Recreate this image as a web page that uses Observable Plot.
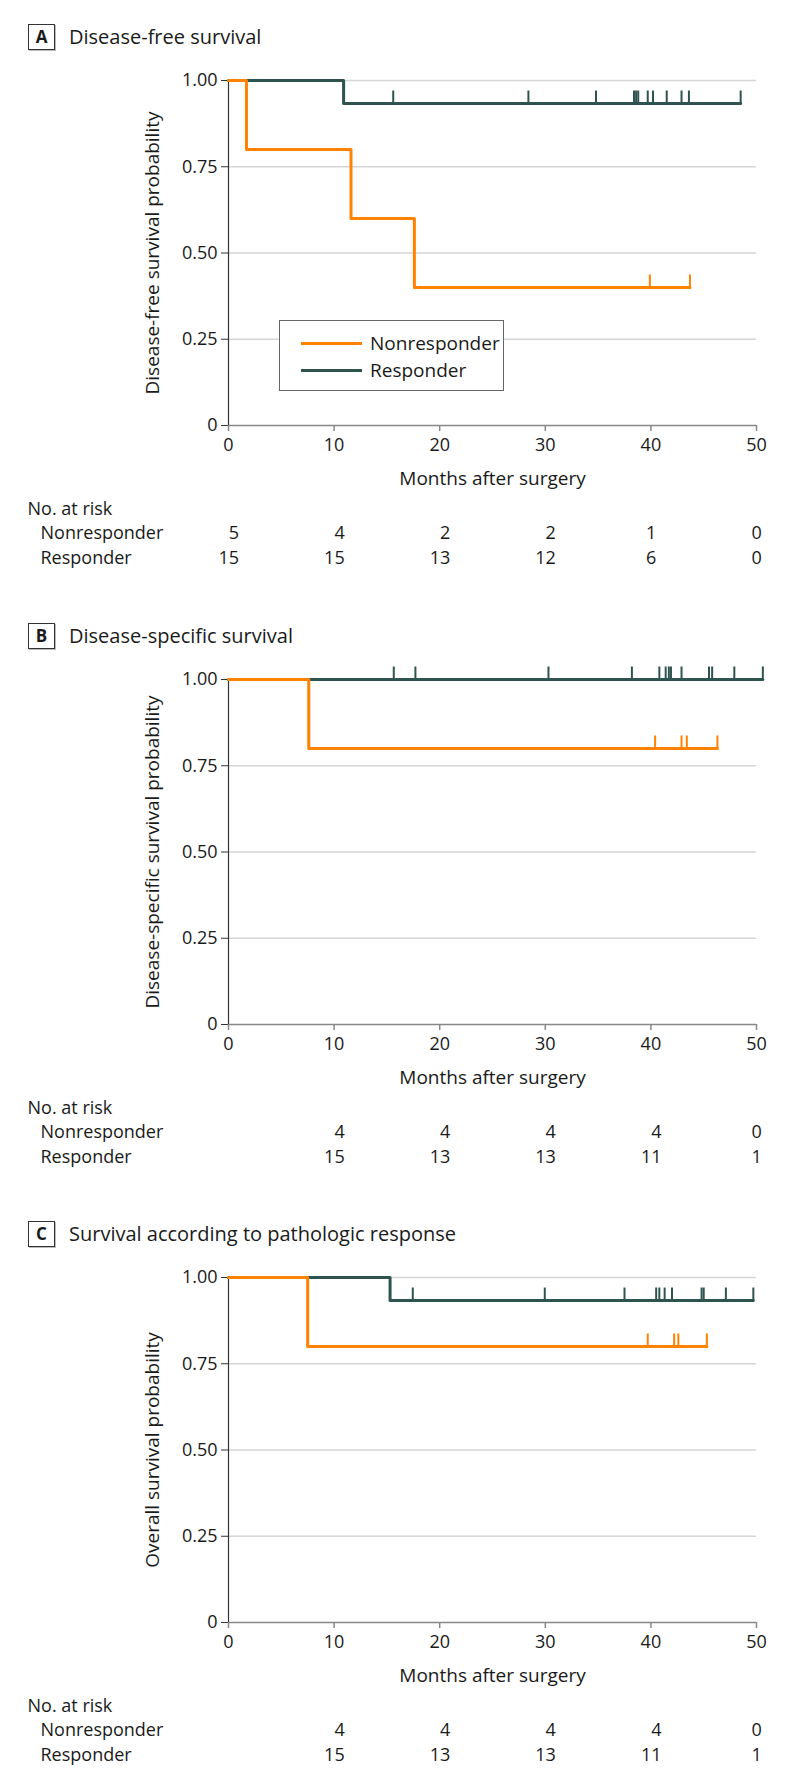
<!DOCTYPE html>
<html>
<head>
<meta charset="utf-8">
<script src="https://cdn.jsdelivr.net/npm/d3@7"></script>
<script src="https://cdn.jsdelivr.net/npm/@observablehq/plot@0.6"></script>
<style>
  html, body { margin: 0; padding: 0; background: #fff; }
  body { width: 794px; height: 1787px; position: relative; font-family: "Open Sans", sans-serif; color: #1a1a1a; }
  .panel { position: absolute; left: 0; width: 794px; height: 599px; }
  .letter { position: absolute; left: 28px; top: 24px; width: 27px; height: 26px; box-sizing: border-box;
            border: 1.2px solid #333; box-shadow: 1px 1px 0 #bbb; font-weight: 700; font-size: 17px;
            line-height: 24px; text-align: center; }
  .title { position: absolute; left: 69px; top: 24px; height: 26px; line-height: 26px; font-size: 20px; white-space: nowrap; }
  .chart { position: absolute; left: 0; top: 56px; }
  .legend { position: absolute; left: 279px; top: 320px; width: 225px; height: 71px; box-sizing: border-box;
            border: 1.4px solid #666; background: #fff; z-index: 2; }
  .legend .row { position: absolute; left: 0; height: 26px; }
  .legend .sw { position: absolute; left: 21px; top: 11.5px; width: 61px; height: 3px; }
  .legend .lab { position: absolute; left: 90px; top: 0; line-height: 26px; font-size: 19px; white-space: nowrap; }
</style>
</head>
<body>
<script>
// ---------- data ----------
const groups = ["Nonresponder", "Responder"];
const groupColors = ["#ff8200", "#2e5450"];
const xTicks = [0, 10, 20, 30, 40, 50];
const yTicks = [0, 0.25, 0.5, 0.75, 1];

const panelLetters = ["A", "B", "C"];
const panelTitles = ["Disease-free survival", "Disease-specific survival", "Survival according to pathologic response"];
const yLabels = ["Disease-free survival probability", "Disease-specific survival probability", "Overall survival probability"];

// Panel A
const aNonTime = [0, 1.7, 11.6, 17.6, 43.7];
const aNonSurv = [1, 0.8, 0.6, 0.4, 0.4];
const aNonCensor = [39.9, 43.7];
const aResTime = [0, 10.9, 48.5];
const aResSurv = [1, 0.9333, 0.9333];
const aResCensor = [15.6, 28.4, 34.8, 38.4, 38.6, 38.8, 39.7, 40.2, 41.5, 42.9, 43.6, 48.5];
const aRiskTimes = [0, 10, 20, 30, 40, 50];
const aRiskNon = [5, 4, 2, 2, 1, 0];
const aRiskRes = [15, 15, 13, 12, 6, 0];

// Panel B
const bNonTime = [0, 7.6, 46.3];
const bNonSurv = [1, 0.8, 0.8];
const bNonCensor = [40.4, 42.9, 43.4, 46.3];
const bResTime = [0, 50.6];
const bResSurv = [1, 1];
const bResCensor = [15.65, 17.7, 30.3, 38.2, 40.8, 41.4, 41.7, 41.9, 42.9, 45.5, 45.8, 47.9, 50.6];
const bRiskTimes = [10, 20, 30, 40, 50];
const bRiskNon = [4, 4, 4, 4, 0];
const bRiskRes = [15, 13, 13, 11, 1];

// Panel C
const cNonTime = [0, 7.5, 45.3];
const cNonSurv = [1, 0.8, 0.8];
const cNonCensor = [39.7, 42.2, 42.6, 45.3];
const cResTime = [0, 15.3, 49.7];
const cResSurv = [1, 0.9333, 0.9333];
const cResCensor = [17.45, 29.95, 37.5, 40.5, 40.8, 41.3, 42.0, 44.8, 45.0, 47.1, 49.7];
const cRiskTimes = [10, 20, 30, 40, 50];
const cRiskNon = [4, 4, 4, 4, 0];
const cRiskRes = [15, 13, 13, 11, 1];

// ---------- build ----------
const panels = [
  {non: [aNonTime, aNonSurv, aNonCensor], res: [aResTime, aResSurv, aResCensor], risk: [aRiskTimes, aRiskNon, aRiskRes], legend: true},
  {non: [bNonTime, bNonSurv, bNonCensor], res: [bResTime, bResSurv, bResCensor], risk: [bRiskTimes, bRiskNon, bRiskRes], legend: false},
  {non: [cNonTime, cNonSurv, cNonCensor], res: [cResTime, cResSurv, cResCensor], risk: [cRiskTimes, cRiskNon, cRiskRes], legend: false}
];

const censorSymbol = { draw(ctx) { ctx.moveTo(0, 0); ctx.lineTo(0, -13); } };
const panelTop = [0, 599, 1197];

function curveRows(group, [t, s]) { return t.map((d, i) => ({group, t: d, s: s[i]})); }
function censorRows(group, [t, s, c]) {
  return c.map(ct => {
    let v = s[0];
    for (let i = 0; i < t.length; i++) if (t[i] <= ct) v = s[i];
    return {group, t: ct, s: v};
  });
}

panels.forEach((p, k) => {
  const div = document.createElement("div");
  div.className = "panel";
  div.style.top = panelTop[k] + "px";
  document.body.appendChild(div);

  const letter = document.createElement("div");
  letter.className = "letter"; letter.textContent = panelLetters[k];
  div.appendChild(letter);
  const title = document.createElement("div");
  title.className = "title"; title.textContent = panelTitles[k];
  div.appendChild(title);

  const curves = [...curveRows(groups[1], p.res), ...curveRows(groups[0], p.non)];
  const censors = [...censorRows(groups[1], p.res), ...censorRows(groups[0], p.non)];

  const [rt, rn, rr] = p.risk;
  const riskRows = [];
  rt.forEach((t, i) => {
    const w = Math.max(String(rn[i]).length, String(rr[i]).length);
    riskRows.push({t, n: rn[i], row: 0, w});
    riskRows.push({t, n: rr[i], row: 1, w});
  });
  const riskMarks = [];
  [1, 2].forEach(w => {
    [0, 1].forEach(row => {
      riskMarks.push(Plot.text(riskRows.filter(d => d.w === w && d.row === row), {
        x: "t", text: d => String(d.n), frameAnchor: "bottom", lineAnchor: "middle", textAnchor: "end",
        dx: w * 5.3, dy: row === 0 ? 108 : 133, fill: "#1a1a1a", fontSize: 18
      }));
    });
  });

  const chart = Plot.plot({
    width: 794,
    height: 519,
    marginLeft: 228,
    marginRight: 38,
    marginTop: 24,
    marginBottom: 150,
    style: {fontFamily: "Open Sans", fontSize: "18px", color: "#1a1a1a", background: "transparent", overflow: "visible"},
    x: {domain: [0, 50]},
    y: {domain: [0, 1]},
    color: {domain: groups, range: groupColors},
    marks: [
      Plot.ruleY(yTicks.filter(d => d > 0), {stroke: "#d6d6d6", strokeWidth: 1.6}),
      Plot.axisY({ticks: yTicks, tickSize: 7, tickPadding: 4, tickFormat: d => d === 0 ? "0" : d3.format(".2f")(d), label: null, stroke: "#333", fontSize: 18}),
      Plot.axisX({ticks: xTicks, tickSize: 6, tickPadding: 7, label: null, stroke: "#888", strokeWidth: 1.5, fontSize: 18}),
      Plot.ruleY([0], {stroke: "#888", strokeWidth: 1.6}),
      Plot.ruleX([0], {stroke: "#333", strokeWidth: 1.2}),
      Plot.text([yLabels[k]], {frameAnchor: "left", textAnchor: "middle", lineAnchor: "middle", rotate: -90, dx: -76, fontSize: 19, fill: "#1a1a1a"}),
      Plot.text(["Months after surgery"], {frameAnchor: "bottom", lineAnchor: "middle", dy: 53, fontSize: 19, fill: "#1a1a1a"}),
      Plot.line(curves, {x: "t", y: "s", z: "group", stroke: "group", curve: "step-after", strokeWidth: 3}),
      Plot.dot(censors, {x: "t", y: "s", stroke: "group", symbol: censorSymbol, fill: "none", strokeWidth: 2, r: 5}),
      Plot.text(["No. at risk"], {frameAnchor: "bottom-left", lineAnchor: "middle", textAnchor: "start", dx: -201, dy: 84, fontSize: 18, fill: "#1a1a1a"}),
      Plot.text(["Nonresponder"], {frameAnchor: "bottom-left", lineAnchor: "middle", textAnchor: "start", dx: -188, dy: 108, fontSize: 18, fill: "#1a1a1a"}),
      Plot.text(["Responder"], {frameAnchor: "bottom-left", lineAnchor: "middle", textAnchor: "start", dx: -188, dy: 133, fontSize: 18, fill: "#1a1a1a"}),
      ...riskMarks
    ]
  });
  chart.classList.add("chart");
  div.appendChild(chart);

  if (p.legend) {
    const lg = document.createElement("div");
    lg.className = "legend";
    groups.forEach((g, i) => {
      const row = document.createElement("div");
      row.className = "row"; row.style.top = (9 + i * 27) + "px"; row.style.width = "100%";
      const sw = document.createElement("div"); sw.className = "sw"; sw.style.background = groupColors[i];
      const lab = document.createElement("div"); lab.className = "lab"; lab.textContent = g;
      row.appendChild(sw); row.appendChild(lab);
      lg.appendChild(row);
    });
    div.appendChild(lg);
  }
});
</script>
</body>
</html>
